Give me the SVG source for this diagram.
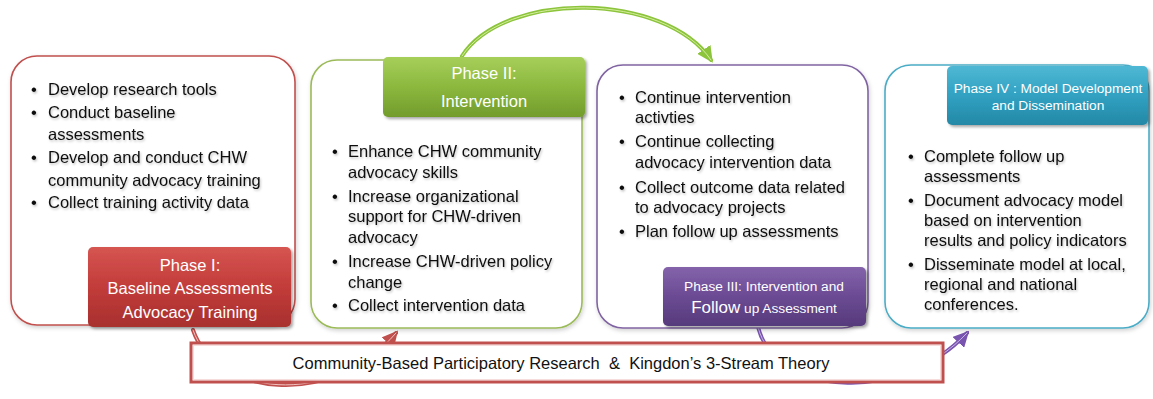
<svg xmlns="http://www.w3.org/2000/svg" width="1153" height="399" viewBox="0 0 1153 399">
  <style>
    .panel { fill: #ffffff; stroke-width: 1.6; }
    .body { font-family: "Liberation Sans", Arial, sans-serif; font-size: 16.5px; fill: #111111; }
    .tag { font-family: "Liberation Sans", Arial, sans-serif; fill: #ffffff; text-anchor: middle; }
    .flow { fill: none; stroke-linecap: round; }
  </style>
  <defs>
    <filter id="boxShadow" x="-5%" y="-5%" width="112%" height="115%">
      <feDropShadow dx="1" dy="2" stdDeviation="2" flood-color="#000000" flood-opacity="0.18"/>
    </filter>
    <filter id="tagShadow" x="-5%" y="-10%" width="115%" height="130%">
      <feDropShadow dx="2" dy="2" stdDeviation="1.5" flood-color="#000000" flood-opacity="0.35"/>
    </filter>
    <filter id="textShadow" x="-2%" y="-20%" width="106%" height="150%">
      <feDropShadow dx="1" dy="1.5" stdDeviation="1" flood-color="#000000" flood-opacity="0.25"/>
    </filter>
    <linearGradient id="gRed" x1="0" y1="0" x2="0" y2="1">
      <stop offset="0" stop-color="#d65552"/>
      <stop offset="0.5" stop-color="#c23c3a"/>
      <stop offset="1" stop-color="#a8302e"/>
    </linearGradient>
    <linearGradient id="gGreen" x1="0" y1="0" x2="0" y2="1">
      <stop offset="0" stop-color="#a6cf5a"/>
      <stop offset="0.5" stop-color="#8cb83e"/>
      <stop offset="1" stop-color="#729c2c"/>
    </linearGradient>
    <linearGradient id="gPurple" x1="0" y1="0" x2="0" y2="1">
      <stop offset="0" stop-color="#8463ab"/>
      <stop offset="0.5" stop-color="#6b4b93"/>
      <stop offset="1" stop-color="#563a7c"/>
    </linearGradient>
    <linearGradient id="gCyan" x1="0" y1="0" x2="0" y2="1">
      <stop offset="0" stop-color="#4fb8d4"/>
      <stop offset="0.5" stop-color="#31a1c2"/>
      <stop offset="1" stop-color="#2488a6"/>
    </linearGradient>
    <marker id="headGreen" viewBox="0 0 10 10" refX="8" refY="5" markerWidth="4" markerHeight="4" orient="auto">
      <path d="M0,0 L10,5 L0,10 Z" fill="#8cc43c"/>
    </marker>
    <marker id="headRed" viewBox="0 0 10 10" refX="8" refY="5" markerWidth="4" markerHeight="4" orient="auto">
      <path d="M0,0 L10,5 L0,10 Z" fill="#c0504d"/>
    </marker>
    <marker id="headPurple" viewBox="0 0 10 10" refX="8" refY="5" markerWidth="4" markerHeight="4" orient="auto">
      <path d="M0,0 L10,5 L0,10 Z" fill="#7a55b0"/>
    </marker>
  </defs>

  <rect width="1153" height="399" fill="#ffffff"/>

  <!-- connectors: phase-to-phase arrows, drawn under the panels and the base bar -->
  <g id="connectors">
    <path class="flow" d="M193,330 C215,395 330,410 396,333" stroke="#c0504d" stroke-width="4" marker-end="url(#headRed)"/>
    <path class="flow" d="M193,330 C215,395 330,410 396,333" stroke="#f2c4c2" stroke-width="1"/>
    <path class="flow" d="M462,56 C505,-10 665,-8 711,60" stroke="#8cc43c" stroke-width="4" marker-end="url(#headGreen)"/>
    <path class="flow" d="M462,56 C505,-10 665,-8 711,60" stroke="#d5ee9e" stroke-width="1"/>
    <path class="flow" d="M758,327 C775,395 900,405 967,333" stroke="#7a55b0" stroke-width="4" marker-end="url(#headPurple)"/>
    <path class="flow" d="M758,327 C775,395 900,405 967,333" stroke="#c9b5e6" stroke-width="1"/>
  </g>

  <!-- Phase I -->
  <g id="phase1">
    <rect class="panel" x="11" y="56" width="284" height="269" rx="26" stroke="#c0504d" filter="url(#boxShadow)"/>
    <g class="body" filter="url(#textShadow)">
      <text x="31" y="95">•</text><text x="48" y="95">Develop research tools</text>
      <text x="31" y="118">•</text><text x="48" y="118">Conduct baseline</text>
      <text x="48" y="140">assessments</text>
      <text x="31" y="163">•</text><text x="48" y="163">Develop and conduct CHW</text>
      <text x="48" y="186">community advocacy training</text>
      <text x="31" y="208">•</text><text x="48" y="208">Collect training activity data</text>
    </g>
    <rect x="88" y="247" width="203" height="80" rx="5" fill="url(#gRed)" filter="url(#tagShadow)"/>
    <g class="tag" font-size="16.5">
      <text x="190" y="271">Phase I:</text>
      <text x="190" y="294">Baseline Assessments</text>
      <text x="190" y="318">Advocacy Training</text>
    </g>
  </g>

  <!-- Phase II -->
  <g id="phase2">
    <rect class="panel" x="311" y="60" width="271" height="268" rx="26" stroke="#9bbb59" filter="url(#boxShadow)"/>
    <rect x="383" y="57" width="202" height="60" rx="5" fill="url(#gGreen)" filter="url(#tagShadow)"/>
    <g class="tag" font-size="16.5">
      <text x="484" y="79">Phase II:</text>
      <text x="484" y="107">Intervention</text>
    </g>
    <g class="body" filter="url(#textShadow)">
      <text x="332" y="157">•</text><text x="348" y="157">Enhance CHW community</text>
      <text x="348" y="178">advocacy skills</text>
      <text x="332" y="202">•</text><text x="348" y="202">Increase organizational</text>
      <text x="348" y="222">support for CHW-driven</text>
      <text x="348" y="243">advocacy</text>
      <text x="332" y="267">•</text><text x="348" y="267">Increase CHW-driven policy</text>
      <text x="348" y="288">change</text>
      <text x="332" y="311">•</text><text x="348" y="311">Collect intervention data</text>
    </g>
  </g>

  <!-- Phase III -->
  <g id="phase3">
    <rect class="panel" x="597" y="65" width="271" height="263" rx="26" stroke="#8064a2" filter="url(#boxShadow)"/>
    <g class="body" filter="url(#textShadow)">
      <text x="619" y="103">•</text><text x="635" y="103">Continue intervention</text>
      <text x="635" y="123">activties</text>
      <text x="619" y="147">•</text><text x="635" y="147">Continue collecting</text>
      <text x="635" y="168">advocacy intervention data</text>
      <text x="619" y="193">•</text><text x="635" y="193">Collect outcome data related</text>
      <text x="635" y="213">to advocacy projects</text>
      <text x="619" y="237">•</text><text x="635" y="237">Plan follow up assessments</text>
    </g>
    <rect x="663" y="267" width="203" height="59" rx="5" fill="url(#gPurple)" filter="url(#tagShadow)"/>
    <g class="tag" font-size="13.7">
      <text x="764" y="291">Phase III: Intervention and</text>
      <text x="764" y="313"><tspan font-size="17">Follow</tspan> up Assessment</text>
    </g>
  </g>

  <!-- Phase IV -->
  <g id="phase4">
    <rect class="panel" x="885" y="65" width="264" height="263" rx="26" stroke="#4bacc6" filter="url(#boxShadow)"/>
    <rect x="947" y="66" width="201" height="59" rx="5" fill="url(#gCyan)" filter="url(#tagShadow)"/>
    <g class="tag" font-size="13.7">
      <text x="1048" y="93">Phase IV : Model Development</text>
      <text x="1048" y="110">and Dissemination</text>
    </g>
    <g class="body" filter="url(#textShadow)">
      <text x="908" y="162">•</text><text x="924" y="162">Complete follow up</text>
      <text x="924" y="182">assessments</text>
      <text x="908" y="206">•</text><text x="924" y="206">Document advocacy model</text>
      <text x="924" y="226">based on intervention</text>
      <text x="924" y="246">results and policy indicators</text>
      <text x="908" y="270">•</text><text x="924" y="270">Disseminate model at local,</text>
      <text x="924" y="290">regional and national</text>
      <text x="924" y="310">conferences.</text>
    </g>
  </g>

  <!-- Foundation bar -->
  <g id="foundation">
    <rect x="191" y="343" width="752" height="39" fill="#ffffff" stroke="#c0504d" stroke-width="3"/>
    <rect x="193.5" y="345.5" width="747" height="34" fill="none" stroke="#f6dcdb" stroke-width="1"/>
    <text x="561" y="369" class="body" text-anchor="middle" font-size="16.5" xml:space="preserve">Community-Based Participatory Research  &amp;  Kingdon’s 3-Stream Theory</text>
  </g>
</svg>
